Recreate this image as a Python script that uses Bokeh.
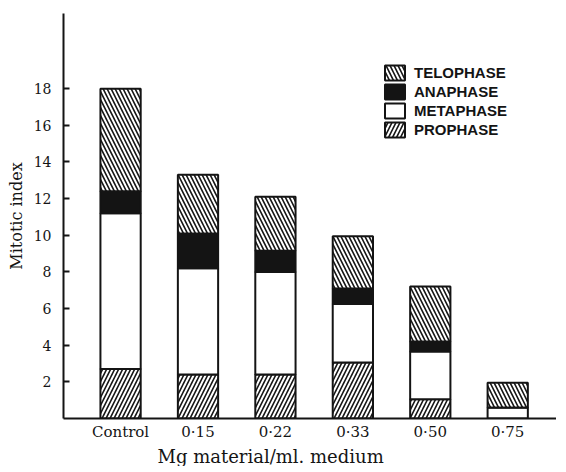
from bokeh.plotting import figure
from bokeh.models import Range1d, FixedTicker, Legend, LegendItem, Title, ColumnDataSource
from bokeh.embed import file_html
from bokeh.resources import INLINE
import numpy as np

categories = ["Control", "0\u00b715", "0\u00b722", "0\u00b733", "0\u00b750", "0\u00b775"]
prophase = [2.7, 2.4, 2.4, 3.05, 1.05, 0.0]
metaphase = [8.5, 5.8, 5.6, 3.2, 2.6, 0.6]
anaphase = [1.2, 1.9, 1.15, 0.85, 0.55, 0.0]
telophase = [5.6, 3.2, 2.95, 2.85, 3.0, 1.35]
y_ticks = [2, 4, 6, 8, 10, 12, 14, 16, 18]
x_title = "Mg material/ml. medium"

SERIF = "DejaVu Serif"
INK = "#141414"

x = np.arange(len(categories))
p1 = np.array(prophase)
p2 = p1 + np.array(metaphase)
p3 = p2 + np.array(anaphase)
p4 = p3 + np.array(telophase)

p = figure(width=556, height=466, output_backend="svg", toolbar_location=None,
           x_range=Range1d(-0.737, 5.63), y_range=Range1d(0, 22.1),
           min_border_left=63, min_border_top=13, min_border_right=0, min_border_bottom=0)
p.background_fill_color = "white"
p.border_fill_color = "white"
p.outline_line_color = None
p.grid.visible = False

src = ColumnDataSource(dict(x=x, b0=np.zeros(len(x)), p1=p1, p2=p2, p3=p3, p4=p4))
W = 0.52
common = dict(source=src, width=W, line_color=INK, line_width=2)
r_pro = p.vbar(x="x", bottom="b0", top="p1", fill_color="white",
               hatch_pattern="/", hatch_color=INK, hatch_scale=8, hatch_weight=1.6, **common)
r_met = p.vbar(x="x", bottom="p1", top="p2", fill_color="white", **common)
r_ana = p.vbar(x="x", bottom="p2", top="p3", fill_color=INK, **common)
r_tel = p.vbar(x="x", bottom="p3", top="p4", fill_color="white",
               hatch_pattern="\\", hatch_color=INK, hatch_scale=8, hatch_weight=1.6, **common)

legend = Legend(items=[LegendItem(label="TELOPHASE", renderers=[r_tel]),
                       LegendItem(label="ANAPHASE", renderers=[r_ana]),
                       LegendItem(label="METAPHASE", renderers=[r_met]),
                       LegendItem(label="PROPHASE", renderers=[r_pro])],
                location=(319, 279), spacing=0, padding=0, margin=0,
                glyph_width=25, glyph_height=19, label_height=19, label_standoff=7,
                border_line_alpha=0, background_fill_alpha=0,
                label_text_font="Liberation Sans", label_text_font_style="bold",
                label_text_font_size="15px", label_text_color=INK)
p.add_layout(legend, "center")

# y axis
ya = p.yaxis[0]
ya.ticker = FixedTicker(ticks=y_ticks)
ya.axis_line_width = 2
ya.axis_line_color = INK
ya.major_tick_in = 6
ya.major_tick_out = 0
ya.major_tick_line_width = 2
ya.major_tick_line_color = INK
ya.minor_tick_line_color = None
ya.major_label_standoff = 12
ya.major_label_text_font = SERIF
ya.major_label_text_font_size = "14px"
ya.major_label_text_color = INK
ya.axis_label = "Mitotic index"
ya.axis_label_text_font = SERIF
ya.axis_label_text_font_style = "normal"
ya.axis_label_text_font_size = "16px"
ya.axis_label_text_color = INK
ya.axis_label_standoff = 5

# x axis
xa = p.xaxis[0]
xa.ticker = FixedTicker(ticks=list(x))
xa.major_label_overrides = {int(i): c for i, c in zip(x, categories)}
xa.axis_line_width = 2
xa.axis_line_color = INK
xa.major_tick_in = 0
xa.major_tick_out = 0
xa.minor_tick_line_color = None
xa.major_label_standoff = 4
xa.major_label_text_font = SERIF
xa.major_label_text_font_size = "15px"
xa.major_label_text_color = INK

p.add_layout(Title(text=x_title, align="left", offset=94, standoff=0,
                   text_font=SERIF, text_font_style="normal", text_font_size="18px",
                   text_color=INK), "below")

open("out.html", "w").write(file_html(p, INLINE))
